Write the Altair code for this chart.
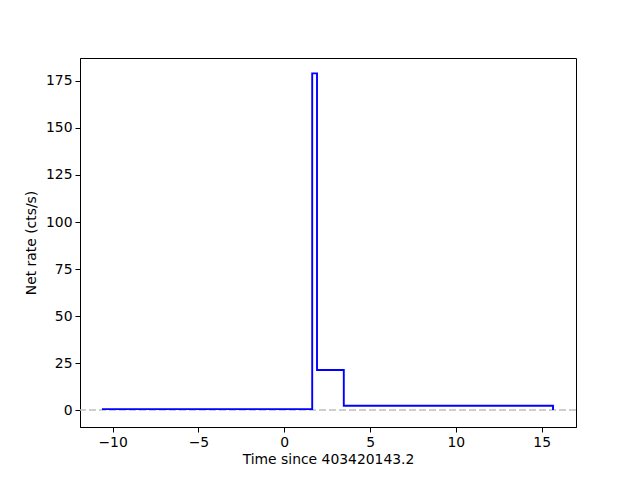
import altair as alt
import pandas as pd

# step histogram edges and rates
edges = [-10.62, 1.63, 1.91, 3.47, 15.66]
rates = [0.5, 179.0, 21.3, 2.3, 0.0]
x_ticks = [-10, -5, 0, 5, 10, 15]
y_ticks = [0, 25, 50, 75, 100, 125, 150, 175]

df = pd.DataFrame({"t": edges, "rate": rates})

x_scale = alt.Scale(domain=[-11.9, 17.0], nice=False, zero=False)
y_scale = alt.Scale(domain=[-9.0, 187.2], nice=False, zero=False)

axis_common = dict(
    grid=False, domainColor="black", tickColor="black", labelColor="black",
    titleColor="black", labelFont="DejaVu Sans", titleFont="DejaVu Sans",
    labelFontSize=13.9, titleFontSize=13.9, titleFontWeight="normal",
    tickSize=5, labelPadding=3,
)

line = alt.Chart(df).mark_line(interpolate="step-after", color="#0000ff", strokeWidth=1.9).encode(
    x=alt.X("t:Q", scale=x_scale,
            axis=alt.Axis(values=x_ticks, title="Time since 403420143.2", titlePadding=4, **axis_common)),
    y=alt.Y("rate:Q", scale=y_scale,
            axis=alt.Axis(values=y_ticks, title="Net rate (cts/s)", titlePadding=7, **axis_common)),
)

zero = alt.Chart(pd.DataFrame({"z": [0]})).mark_rule(
    color="#bfbfbf", strokeWidth=1.5, strokeDash=[7, 3]
).encode(y=alt.Y("z:Q", scale=y_scale))

chart = alt.layer(zero, line).properties(
    width=496, height=369,
    autosize=alt.AutoSizeParams(type="none"),
    padding={"left": 72, "top": 50, "right": 56, "bottom": 45},
    background="white",
).configure_view(stroke="black", strokeWidth=1)

chart.save("out.html", embed_options={"renderer": "svg", "actions": False})
